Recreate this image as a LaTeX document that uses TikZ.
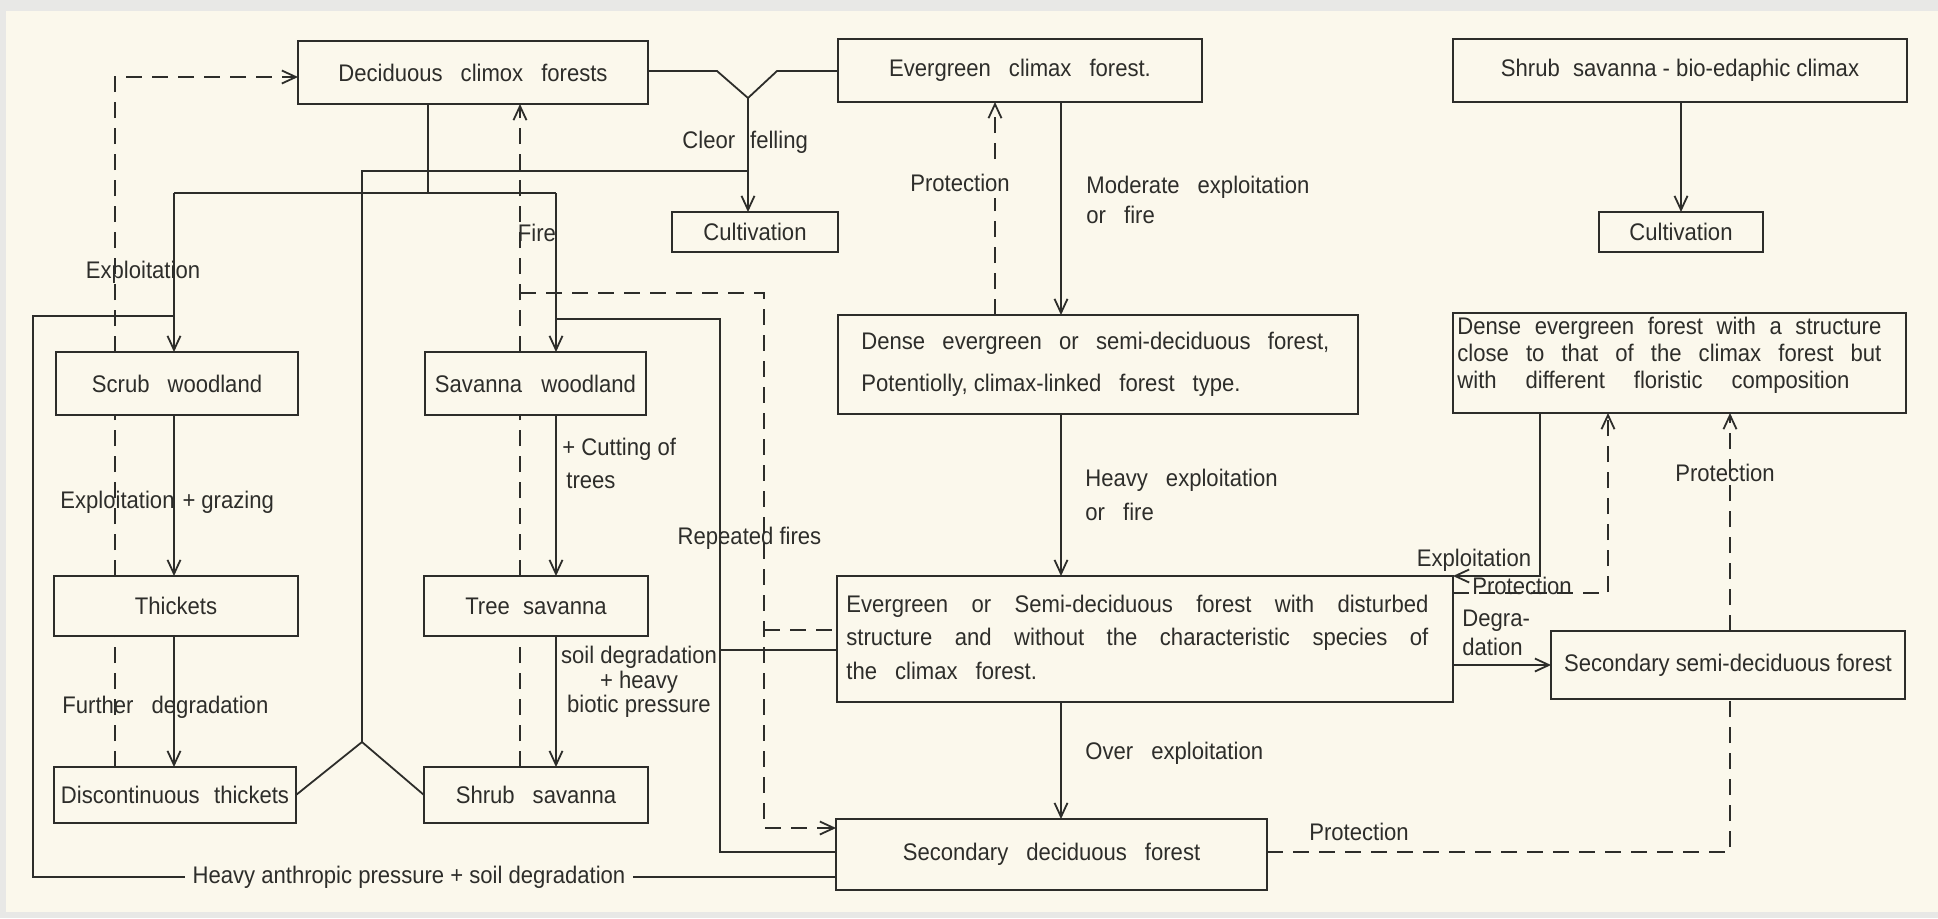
\documentclass[tikz,border=0pt]{standalone}
\usepackage{fontspec}
\setmainfont{Liberation Sans}[FakeStretch=0.92]
\usetikzlibrary{arrows.meta}
\definecolor{paper}{RGB}{251,248,236}
\definecolor{edgegrey}{RGB}{232,232,230}
\definecolor{ink}{RGB}{45,45,42}
\newcommand{\wsp}{\hspace{0.75em}}
\begin{document}
\begin{tikzpicture}[x=0.5pt,y=-0.5pt,
  box/.style={draw=ink,line width=1.2pt,inner sep=0pt,outer sep=0pt,text=ink,font=\fontsize{12}{14}\selectfont},
  lbl/.style={text=ink,inner sep=0pt,font=\fontsize{12}{14}\selectfont},
  con/.style={draw=ink,line width=0.9pt},
  arr/.style={con,-{Straight Barb[length=7pt,width=6.5pt]}},
  dsh/.style={con,dash pattern=on 8pt off 5pt},
  darr/.style={dsh,-{Straight Barb[length=7pt,width=6.5pt]}}
]
% background
\fill[edgegrey] (0,0) rectangle (1938,918);
\fill[paper] (6,11) rectangle (1938,912);
\useasboundingbox (0,0) rectangle (1938,918);

% boxes
\node[box,minimum width=175pt,minimum height=31.5pt] (dcf) at (473,72.5) {Deciduous\wsp climox\wsp forests};
\node[box,minimum width=182pt,minimum height=31.5pt] (ecf) at (1020,70.5) {Evergreen\wsp climax\wsp forest.};
\node[box,minimum width=83pt,minimum height=20pt] (cultL) at (755,232) {Cultivation};
\node[box,minimum width=227pt,minimum height=31.5pt] (ssbe) at (1680,70.5) {Shrub\hspace{0.3em} savanna - bio-edaphic climax};
\node[box,minimum width=82pt,minimum height=20pt] (cultR) at (1681,232) {Cultivation};
\node[box,minimum width=226.5pt,minimum height=50pt] (desf) at (1679.5,363) {};
\node[box,minimum width=260pt,minimum height=49.5pt] (desd) at (1098,364.5) {};
\node[box,minimum width=121pt,minimum height=31.5pt] (scrub) at (177,383.5) {Scrub\wsp woodland};
\node[box,minimum width=110.5pt,minimum height=31.5pt] (savw) at (535.5,383.5) {Savanna\hspace{0.55em} woodland};
\node[box,minimum width=122pt,minimum height=30pt] (thick) at (176,606) {Thickets};
\node[box,minimum width=112pt,minimum height=30pt] (trees) at (536,606) {Tree\hspace{0.3em} savanna};
\node[box,minimum width=121pt,minimum height=28pt] (disc) at (175,795) {Discontinuous\hspace{0.35em} thickets};
\node[box,minimum width=112pt,minimum height=28pt] (shrubs) at (536,795) {Shrub\wsp savanna};
\node[box,minimum width=308pt,minimum height=63pt] (dist) at (1145,639) {};
\node[box,minimum width=215.5pt,minimum height=35.5pt] (sdf) at (1051.5,854.5) {Secondary\wsp deciduous\wsp forest};
\node[box,minimum width=177pt,minimum height=34pt] (ssdf) at (1728,665) {Secondary semi-deciduous forest};

% multi-line box texts
\node[lbl,anchor=west,align=left,font=\fontsize{12}{13.5}\selectfont] (desft) at (1457,355)
  {\makebox[212pt][s]{Dense evergreen forest with a structure}\\
   \makebox[212pt][s]{close to that of the climax forest but}\\
   \makebox[196pt][s]{with different floristic composition}};
\node[lbl,anchor=west,align=left,font=\fontsize{12}{21}\selectfont] (desdt) at (861,364)
  {\makebox[234pt][s]{Dense evergreen or semi-deciduous forest,}\\
   Potentiolly, climax-linked\wsp forest\wsp type.};
\node[lbl,anchor=west,align=left,font=\fontsize{12}{16.75}\selectfont] (distt) at (846,637)
  {\makebox[291pt][s]{Evergreen or Semi-deciduous forest with disturbed}\\
   \makebox[291pt][s]{structure and without the characteristic species of}\\
   the\wsp climax\wsp forest.};

% coordinates
\coordinate (v1) at (717,71);
\coordinate (v0) at (748,98);
\coordinate (v2) at (777,71);
\coordinate (j1) at (428,193);
\coordinate (jl) at (174,193);
\coordinate (jr) at (556,193);
\coordinate (c1) at (748,171);
\coordinate (c2) at (362,171);
\coordinate (c3) at (362,742);
\coordinate (h1) at (174,316);
\coordinate (h2) at (33,316);
\coordinate (h3) at (33,877);
\coordinate (e1) at (556,319);
\coordinate (e2) at (720,319);
\coordinate (e3) at (720,852);
\coordinate (e4) at (720,650);
\coordinate (f1) at (520,293);
\coordinate (f2) at (764,293);
\coordinate (f3) at (764,828);
\coordinate (f4) at (764,630);
\coordinate (d1) at (115,77);
\coordinate (g1) at (1061,0);
\coordinate (p1) at (995,0);
\coordinate (x1) at (1540,576);
\coordinate (q1) at (1608,593);
\coordinate (r1) at (1730,852);

% top Y junction to cultivation
\draw[con] (dcf.east |- v1) -- (v1) -- (v0) -- (v2) -- (ecf.west |- v2);
\draw[arr] (v0) -- (cultL.north -| v0);
\draw[con] (c1) -- (c2) -- (c3);
\draw[con] (disc.east) -- (c3) -- (shrubs.west);

% deciduous to scrub / savanna
\draw[con] (dcf.south -| j1) -- (j1);
\draw[con] (jl) -- (jr);
\draw[arr] (jl) -- (scrub.north -| jl);
\draw[arr] (jr) -- (savw.north -| jr);
\draw[arr] (scrub.south -| jl) -- (thick.north -| jl);
\draw[arr] (thick.south -| jl) -- (disc.north -| jl);
\draw[arr] (savw.south -| jr) -- (trees.north -| jr);
\draw[arr] (trees.south -| jr) -- (shrubs.north -| jr);

% heavy anthropic pressure loop
\draw[con] (h1) -- (h2) -- (h3) -- (sdf.west |- h3);
% savanna line to forests
\draw[con] (e1) -- (e2) -- (e3) -- (sdf.west |- e3);
\draw[con] (e4) -- (dist.west |- e4);
% repeated fires dashed
\draw[darr] (f1) -- (f2) -- (f3) -- (sdf.west |- f3);
\draw[dsh] (f4) -- (dist.west |- f4);

% dashed protection columns
\draw[dsh] (shrubs.north -| f1) -- (trees.south -| f1);
\draw[dsh] (trees.north -| f1) -- (savw.south -| f1);
\draw[darr] (savw.north -| f1) -- (dcf.south -| f1);
\draw[dsh] (disc.north -| d1) -- (thick.south -| d1);
\draw[dsh] (thick.north -| d1) -- (scrub.south -| d1);
\draw[darr] (scrub.north -| d1) -- (d1) -- (dcf.west |- d1);

% evergreen chain
\draw[arr] (ecf.south -| g1) -- (desd.north -| g1);
\draw[arr] (desd.south -| g1) -- (dist.north -| g1);
\draw[arr] (dist.south -| g1) -- (sdf.north -| g1);
\draw[darr] (desd.north -| p1) -- (ecf.south -| p1);

% right side
\draw[arr] (ssbe.south -| cultR.north) -- (cultR.north);
\draw[arr] (desf.south -| x1) -- (x1) -- (dist.north east);
\draw[darr] (dist.east |- q1) -- (q1) -- (desf.south -| q1);
\draw[arr] (dist.east |- ssdf.west) -- (ssdf.west);
\draw[dsh] (sdf.east |- r1) -- (r1) -- (ssdf.south -| r1);
\draw[darr] (ssdf.north -| r1) -- (desf.south -| r1);

% labels
\node[lbl,anchor=west] (lcf) at (682,142) {Cleor\hspace{7.5pt}felling};
\node[lbl] (lex1) at (143,272) {Exploitation};
\node[lbl] (lfire) at (537,233) {Fire};
\node[lbl,anchor=west] (lexg) at (60,502) {Exploitation\hspace{4pt}+\hspace{3pt}grazing};
\node[lbl,anchor=west] (lfd) at (62,707) {Further\hspace{0.5em} degradation};
\node[lbl,anchor=west,align=left,font=\fontsize{12}{16.5}\selectfont] (lcut) at (562,463) {+ Cutting of\\\hspace{2pt}trees};
\node[lbl,align=center,font=\fontsize{12}{12.25}\selectfont] (lsoil) at (639,682) {soil degradation\\+ heavy\\biotic pressure};
\node[lbl] (lrf) at (749.5,538) {Repeated fires};
\node[lbl,fill=paper,inner xsep=4pt,inner ysep=1pt] (lhap) at (409,877) {Heavy anthropic pressure + soil degradation};
\node[lbl,fill=paper,inner ysep=3pt] (lprot1) at (960,183) {Protection};
\node[lbl,anchor=west,align=left,font=\fontsize{12}{15}\selectfont] (lmod) at (1086,200) {Moderate\wsp exploitation\\or\hspace{0.5em} fire};
\node[lbl,anchor=west,align=left,font=\fontsize{12}{17}\selectfont] (lheavy) at (1085,495) {Heavy\wsp exploitation\\or\hspace{0.5em} fire};
\node[lbl,anchor=west] (lover) at (1085,753) {Over\hspace{0.5em} exploitation};
\node[lbl] (lexr) at (1474,560) {Exploitation};
\node[lbl] (lprot2) at (1522,586) {Protection};
\node[lbl,anchor=west,align=left,font=\fontsize{12}{14.5}\selectfont] (ldeg) at (1462,633) {Degra-\\dation};
\node[lbl] (lprot3) at (1359,832) {Protection};
\node[lbl] (lprot4) at (1725,473) {Protection};
\end{tikzpicture}
\end{document}
